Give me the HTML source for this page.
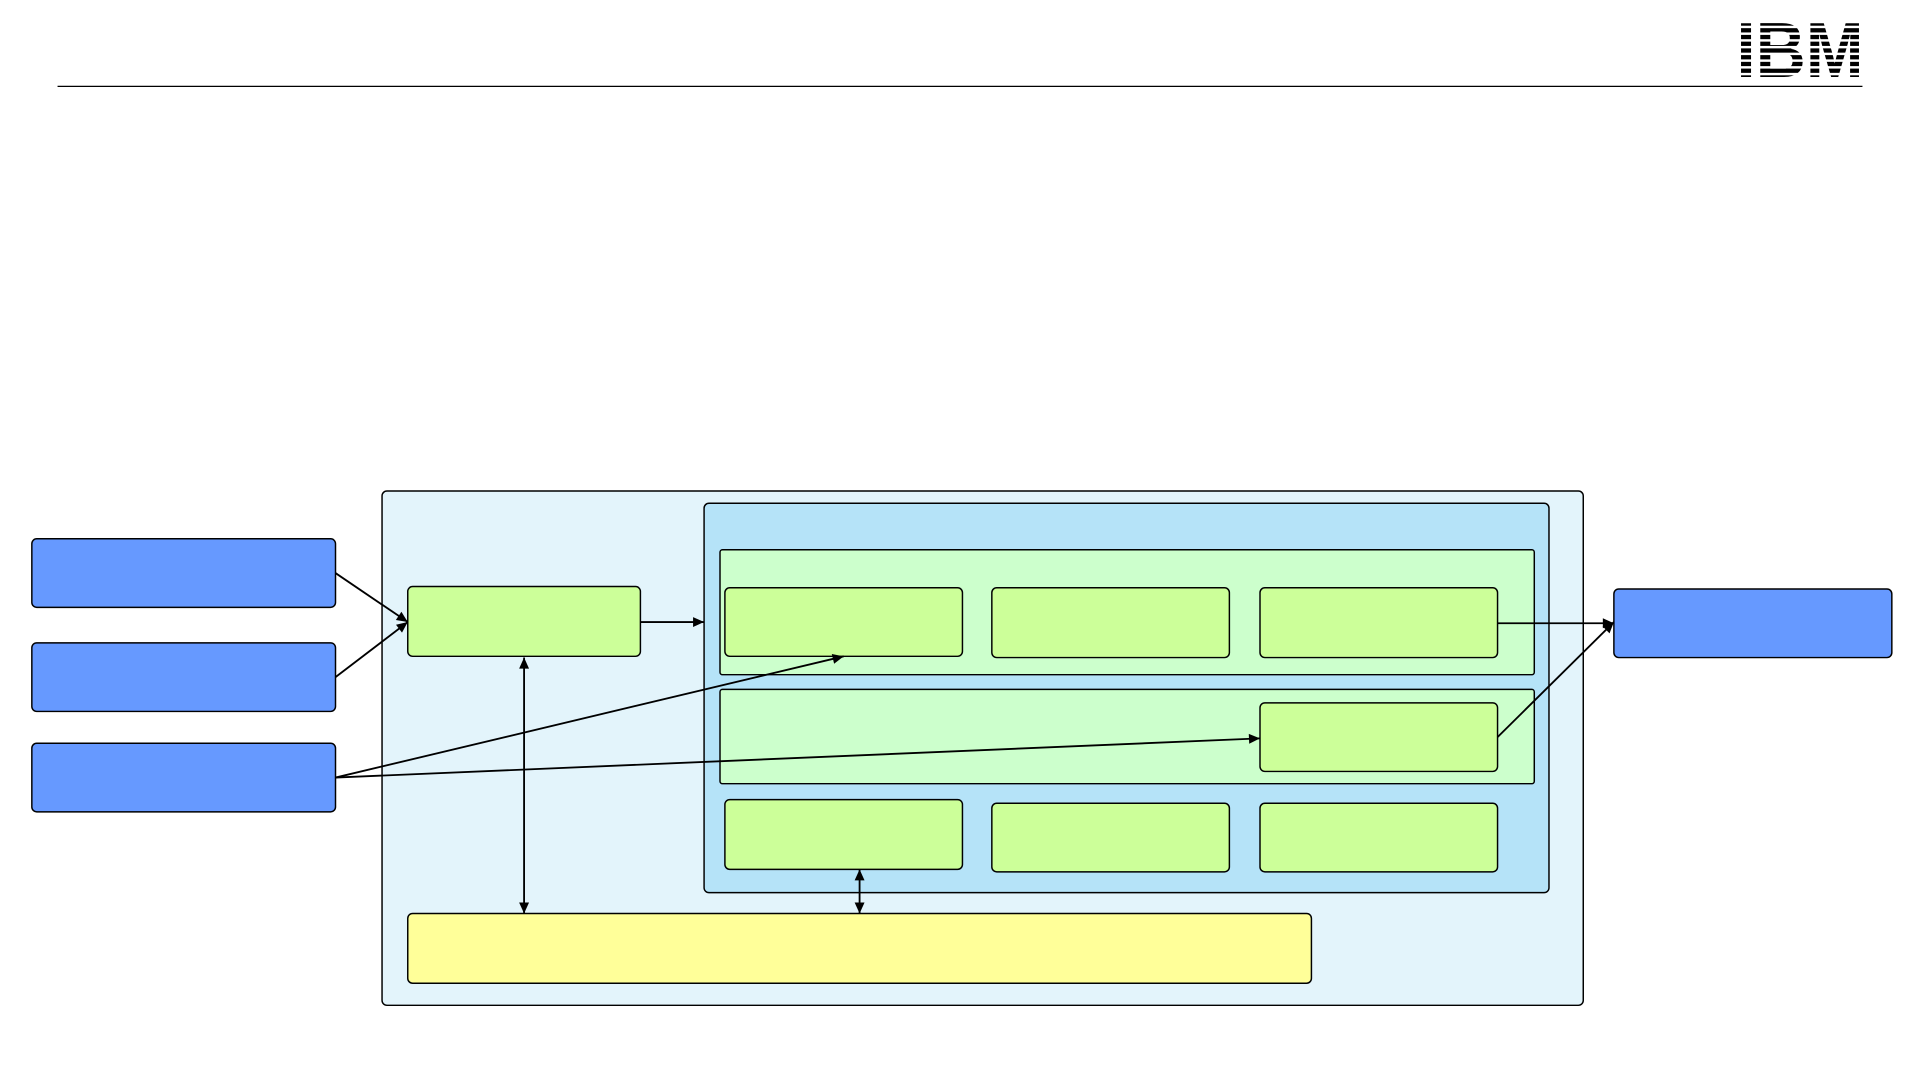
<!DOCTYPE html>
<html><head><meta charset="utf-8"><style>
html,body{margin:0;padding:0;background:#fff;width:1920px;height:1080px;overflow:hidden}
svg{display:block}
</style></head><body>
<svg width="1920" height="1080" viewBox="0 0 1568 882" preserveAspectRatio="none" xmlns="http://www.w3.org/2000/svg">
<defs>
<marker id="a" viewBox="0 0 10 10" refX="10" refY="5" markerWidth="10" markerHeight="9" orient="auto-start-reverse" markerUnits="userSpaceOnUse"><path d="M0,0.5 L10,5 L0,9.5 z" fill="#000"/></marker>
</defs>
<line x1="47" y1="70.5" x2="1521" y2="70.5" stroke="#000" stroke-width="1"/>
<g>
<text x="1470" y="63" font-family="Liberation Sans, sans-serif" font-weight="bold" font-size="64" text-anchor="middle" fill="#000" textLength="104" lengthAdjust="spacingAndGlyphs">IBM</text>
<g fill="#fff">
<rect x="1410" y="21" width="120" height="2"/><rect x="1410" y="26.5" width="120" height="2"/><rect x="1410" y="32" width="120" height="2"/><rect x="1410" y="37.5" width="120" height="2"/><rect x="1410" y="43" width="120" height="2"/><rect x="1410" y="48.5" width="120" height="2"/><rect x="1410" y="54" width="120" height="2"/><rect x="1410" y="59.5" width="120" height="2"/>
</g></g>
<g stroke="#000" stroke-width="1.2">
<rect x="312" y="401" width="981" height="420" rx="4" fill="#e3f4fb"/>
<rect x="575" y="411" width="690" height="318" rx="4" fill="#b5e3f8"/>
<rect x="588" y="449" width="665" height="102" rx="2" fill="#ccffcc"/>
<rect x="588" y="563" width="665" height="77" rx="2" fill="#ccffcc"/>
<g fill="#ccff99">
<rect x="333" y="479" width="190" height="57" rx="4"/>
<rect x="592" y="480" width="194" height="56" rx="4"/>
<rect x="810" y="480" width="194" height="57" rx="4"/>
<rect x="1029" y="480" width="194" height="57" rx="4"/>
<rect x="1029" y="574" width="194" height="56" rx="4"/>
<rect x="592" y="653" width="194" height="57" rx="4"/>
<rect x="810" y="656" width="194" height="56" rx="4"/>
<rect x="1029" y="656" width="194" height="56" rx="4"/>
</g>
<rect x="333" y="746" width="738" height="57" rx="4" fill="#ffff99"/>
<g fill="#6699ff">
<rect x="26" y="440" width="248" height="56" rx="4"/>
<rect x="26" y="525" width="248" height="56" rx="4"/>
<rect x="26" y="607" width="248" height="56" rx="4"/>
<rect x="1318" y="481" width="227" height="56" rx="4"/>
</g>
</g>
<g stroke="#000" stroke-width="1.5" fill="none">
<line x1="274" y1="468" x2="333" y2="508" marker-end="url(#a)"/>
<line x1="274" y1="553" x2="333" y2="508" marker-end="url(#a)"/>
<line x1="523" y1="508" x2="575" y2="508" marker-end="url(#a)"/>
<line x1="274" y1="635" x2="689" y2="536" marker-end="url(#a)"/>
<line x1="274" y1="635" x2="1029" y2="603" marker-end="url(#a)"/>
<line x1="428" y1="537" x2="428" y2="746" marker-start="url(#a)" marker-end="url(#a)"/>
<line x1="702" y1="710" x2="702" y2="746" marker-start="url(#a)" marker-end="url(#a)"/>
<line x1="1223" y1="509" x2="1318" y2="509" marker-end="url(#a)"/>
<line x1="1223" y1="602" x2="1318" y2="508" marker-end="url(#a)"/>
</g>
</svg>
</body></html>
